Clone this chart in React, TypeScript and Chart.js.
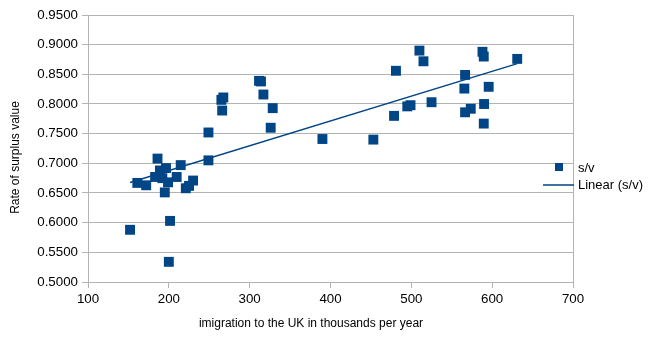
import React, { useEffect, useRef } from "react";
import { Chart, registerables } from "chart.js";

Chart.register(...registerables);

const immigration = [
  152, 161, 172, 183, 186, 189, 192, 195, 196.5, 199, 200, 201.5, 209.7, 214.7, 221, 225, 230,
  249, 249, 265, 267.4, 266, 311.6, 314, 317, 326, 328.5, 390, 453, 478.6, 481, 495, 499, 510,
  515, 525, 565.6, 566.5, 566.5, 573.5, 588, 589.6, 589.6, 590, 595.7, 631,
];
const surplusRate = [
  0.588, 0.667, 0.663, 0.677, 0.708, 0.688, 0.675, 0.651, 0.692, 0.668, 0.534, 0.603, 0.677,
  0.697, 0.658, 0.662, 0.671, 0.705, 0.752, 0.807, 0.811, 0.789, 0.839, 0.838, 0.816, 0.76,
  0.793, 0.741, 0.74, 0.78, 0.856, 0.796, 0.798, 0.89, 0.872, 0.803, 0.826, 0.849, 0.786, 0.792,
  0.888, 0.88, 0.767, 0.8, 0.829, 0.876,
];
const seriesName = "s/v";
const trendName = "Linear (s/v)";
const xTitle = "imigration to the UK in thousands per year";
const yTitle = "Rate of surplus value";

const BLUE = "#004586";
const GRID = "#b3b3b3";
const FAMILY = "'Liberation Sans', Arial, sans-serif";

function regression(xs: number[], ys: number[]) {
  const n = xs.length;
  const mx = xs.reduce((a, b) => a + b, 0) / n;
  const my = ys.reduce((a, b) => a + b, 0) / n;
  let sxy = 0, sxx = 0;
  for (let i = 0; i < n; i++) {
    sxy += (xs[i] - mx) * (ys[i] - my);
    sxx += (xs[i] - mx) * (xs[i] - mx);
  }
  const slope = sxy / sxx;
  return { slope, intercept: my - slope * mx };
}

const overlayPlugin = {
  id: "overlay",
  afterDraw(chart: any) {
    const { ctx } = chart;
    ctx.save();
    // legend
    ctx.fillStyle = BLUE;
    ctx.fillRect(555, 163, 8, 8);
    ctx.strokeStyle = BLUE;
    ctx.lineWidth = 1.5;
    ctx.beginPath();
    ctx.moveTo(543, 185);
    ctx.lineTo(574, 185);
    ctx.stroke();
    ctx.fillStyle = "#000";
    ctx.font = `13px ${FAMILY}`;
    ctx.textBaseline = "middle";
    ctx.textAlign = "left";
    ctx.fillText(seriesName, 578, 168);
    ctx.fillText(trendName, 578, 185);
    // axis titles
    ctx.font = `12px ${FAMILY}`;
    ctx.textAlign = "center";
    ctx.textBaseline = "alphabetic";
    ctx.fillText(xTitle, 311, 327);
    ctx.translate(18.5, 157.5);
    ctx.rotate(-Math.PI / 2);
    ctx.fillText(yTitle, 0, 0);
    ctx.restore();
  },
};

export default function App() {
  const ref = useRef<HTMLCanvasElement>(null);
  useEffect(() => {
    document.body.style.margin = "0";
    const points = immigration.map((x, i) => ({ x, y: surplusRate[i] }));
    const { slope, intercept } = regression(immigration, surplusRate);
    const xmin = Math.min(...immigration);
    const xmax = Math.max(...immigration);
    const trend = [
      { x: xmin, y: intercept + slope * xmin },
      { x: xmax, y: intercept + slope * xmax },
    ];
    const font = { family: FAMILY, size: 13.33 };
    const chart = new Chart(ref.current!, {
      type: "scatter",
      data: {
        datasets: [
          {
            label: seriesName,
            data: points,
            pointStyle: "rect",
            pointRadius: 7,
            pointHoverRadius: 7,
            backgroundColor: BLUE,
            borderColor: BLUE,
            borderWidth: 0,
            order: 2,
          },
          {
            type: "line",
            label: trendName,
            data: trend,
            showLine: true,
            pointRadius: 0,
            borderColor: BLUE,
            borderWidth: 1.5,
            fill: false,
            order: 1,
          } as any,
        ],
      },
      options: {
        responsive: false,
        animation: false,
        layout: { padding: { top: 15, right: 82, left: 0, bottom: 0 } },
        plugins: { legend: { display: false }, tooltip: { enabled: false } },
        scales: {
          x: {
            type: "linear",
            min: 100,
            max: 700,
            ticks: { stepSize: 100, color: "#000", font, padding: 3 },
            grid: {
              color: (c: any) => (c.tick && c.tick.value === 700 ? GRID : "rgba(0,0,0,0)"),
              tickColor: GRID,
              tickLength: 6,
            },
            border: { display: true, color: GRID },
            title: { display: false },
            afterFit: (s: any) => { s.height = 71; },
          },
          y: {
            type: "linear",
            min: 0.5,
            max: 0.95,
            ticks: { stepSize: 0.05, color: "#000", font, padding: 4, callback: (v: any) => Number(v).toFixed(4) },
            grid: { color: GRID, tickColor: GRID, tickLength: 6 },
            border: { display: true, color: GRID },
            title: { display: false },
            afterFit: (s: any) => { s.width = 88; },
          },
        },
      },
      plugins: [overlayPlugin],
    });
    return () => chart.destroy();
  }, []);
  return <canvas ref={ref} width={655} height={353} />;
}
